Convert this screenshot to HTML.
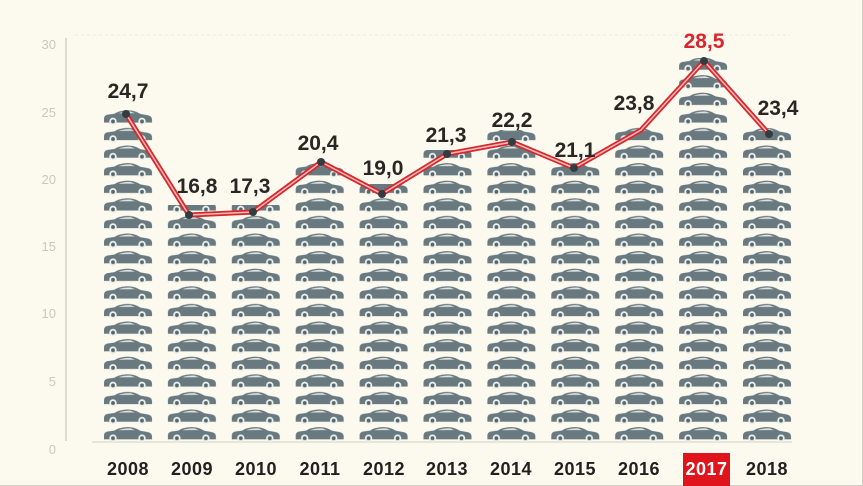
<!DOCTYPE html>
<html><head><meta charset="utf-8"><style>
html,body{margin:0;padding:0;background:#fcf9ee;}
svg{display:block;}
</style></head><body>
<svg width="863" height="486" viewBox="0 0 863 486" xmlns="http://www.w3.org/2000/svg">
<defs>
<pattern id="cars" patternUnits="userSpaceOnUse" x="103.5" y="427" width="63.9" height="17.6">
  <path d="M0.5,9 C0.5,6.5 1.5,5 4,4.5 L11,3.5 C15,1 20,0 26,0.2 C31,0.4 34,2 37,3.8 L44,5 C47,5.6 48.5,7 48.5,9.5 L48.5,12.3 L0.5,12.3 Z" fill="#687980"/>
  <path d="M15,3.2 C19,1.5 23,1.1 27,1.4 L31.5,3 Z" fill="#dfe2dd"/>
  <circle cx="9.5" cy="11.2" r="3.7" fill="#eef0ea"/>
  <circle cx="9.5" cy="11.2" r="1.9" fill="#56666d"/>
  <circle cx="38.5" cy="11.2" r="3.7" fill="#eef0ea"/>
  <circle cx="38.5" cy="11.2" r="1.9" fill="#56666d"/>
</pattern>
</defs>
<rect x="0" y="0" width="863" height="486" fill="#fcf9ee"/>
<line x1="862.5" y1="0" x2="862.5" y2="486" stroke="#cfcdc4" stroke-width="1"/>
<line x1="0" y1="485.5" x2="863" y2="485.5" stroke="#cfcdc4" stroke-width="1"/>
<line x1="75" y1="35" x2="790" y2="35" stroke="#eeeadb" stroke-width="1" stroke-dasharray="3,3"/>

<!-- y axis -->
<line x1="66" y1="38" x2="66" y2="441" stroke="#dcdad2" stroke-width="2"/>
<g font-family="Liberation Sans, sans-serif" font-size="13" fill="#c9c8c0" text-anchor="end">
<text x="56" y="49">30</text>
<text x="56" y="117">25</text>
<text x="56" y="184">20</text>
<text x="56" y="251">15</text>
<text x="56" y="318">10</text>
<text x="56" y="386">5</text>
<text x="56" y="454">0</text>
</g>
<line x1="92" y1="442" x2="792" y2="442" stroke="#e2ded0" stroke-width="1.5"/>

<!-- bars -->
<g fill="url(#cars)">
<rect x="103.5" y="110" width="49" height="332"/>
<rect x="167.4" y="205" width="49" height="237"/>
<rect x="231.3" y="205" width="49" height="237"/>
<rect x="295.2" y="161" width="49" height="281"/>
<rect x="359.1" y="184" width="49" height="258"/>
<rect x="423.0" y="150" width="49" height="292"/>
<rect x="486.9" y="130" width="49" height="312"/>
<rect x="550.8" y="162" width="49" height="280"/>
<rect x="614.7" y="126" width="49" height="316"/>
<rect x="678.6" y="58" width="49" height="384"/>
<rect x="742.5" y="128" width="49" height="314"/>
</g>

<!-- line -->
<polyline points="126,114 189,215 253,212 321,162 382,194 447,154 512,142 574,168 641,130 704,61 769,134" fill="none" stroke="#d8262e" stroke-width="5" stroke-linejoin="miter"/>
<polyline points="126,114 189,215 253,212 321,162 382,194 447,154 512,142 574,168 641,130 704,61 769,134" fill="none" stroke="#f6bcb6" stroke-width="1.5"/>
<g fill="#333c40">
<circle cx="126" cy="114" r="4"/>
<circle cx="189" cy="215" r="4"/>
<circle cx="253" cy="212" r="4"/>
<circle cx="321" cy="162" r="4"/>
<circle cx="382" cy="194" r="4"/>
<circle cx="447" cy="154" r="4"/>
<circle cx="512" cy="142" r="4"/>
<circle cx="574" cy="168" r="4"/>
<circle cx="704" cy="61" r="4"/>
<circle cx="769" cy="134" r="4"/>
</g>

<!-- value labels -->
<g font-family="Liberation Sans, sans-serif" font-size="21" font-weight="bold" fill="#2b2523" text-anchor="middle">
<text x="128" y="98">24,7</text>
<text x="197" y="193">16,8</text>
<text x="250" y="193">17,3</text>
<text x="318" y="150">20,4</text>
<text x="383" y="175">19,0</text>
<text x="446" y="142">21,3</text>
<text x="512" y="127">22,2</text>
<text x="575" y="157">21,1</text>
<text x="634" y="110">23,8</text>
<text x="704" y="48" fill="#d9262e">28,5</text>
<text x="778" y="115">23,4</text>
</g>

<!-- year labels -->
<rect x="683" y="453" width="47" height="33" fill="#e0141c"/>
<g font-family="Liberation Sans, sans-serif" font-size="18" font-weight="bold" fill="#231f20" text-anchor="middle" letter-spacing="0.5">
<text x="128" y="475">2008</text>
<text x="192" y="475">2009</text>
<text x="256" y="475">2010</text>
<text x="320" y="475">2011</text>
<text x="384" y="475">2012</text>
<text x="447" y="475">2013</text>
<text x="511" y="475">2014</text>
<text x="575" y="475">2015</text>
<text x="639" y="475">2016</text>
<text x="706.5" y="475" fill="#ffffff">2017</text>
<text x="767" y="475">2018</text>
</g>
</svg>
</body></html>
